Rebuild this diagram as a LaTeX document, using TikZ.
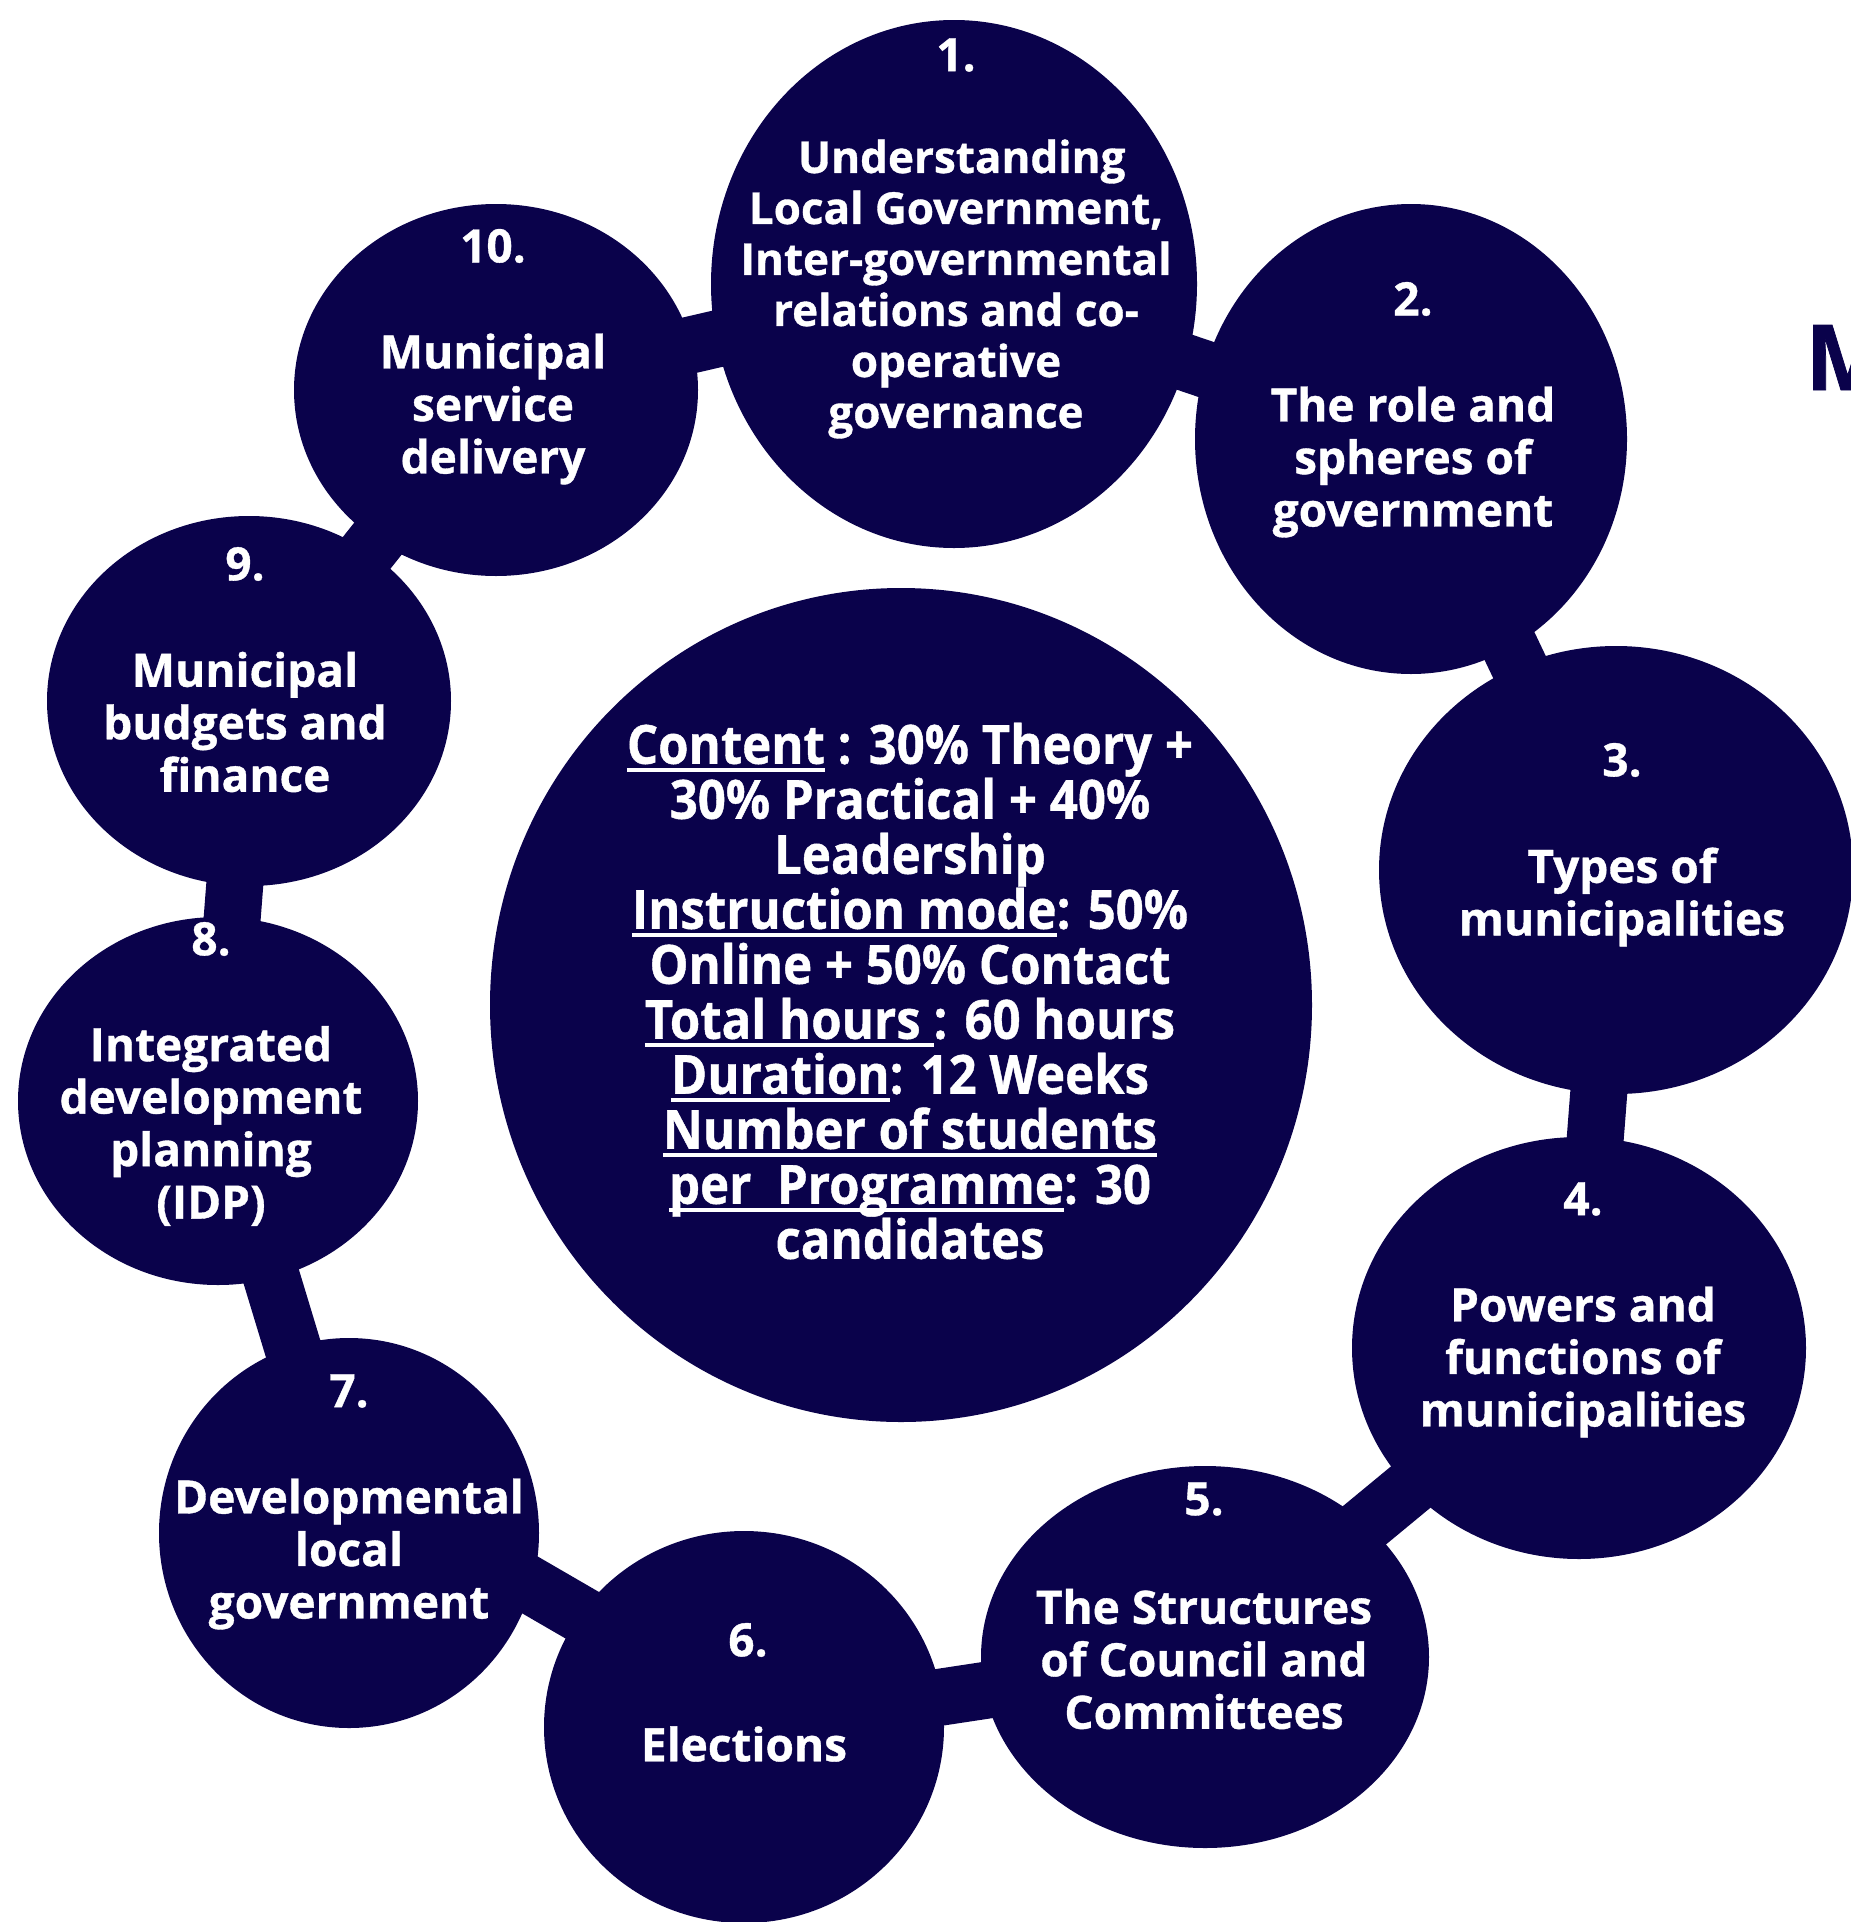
\documentclass[tikz,border=0pt]{standalone}
\usepackage{fontspec}
\setmainfont{Open Sans}[BoldFeatures={FakeBold=0.8}]
\newfontfamily\condfont[FakeStretch=0.91,BoldFeatures={FakeBold=0.8}]{Open Sans}
\usetikzlibrary{shapes.geometric,backgrounds}
\definecolor{navy}{RGB}{10,2,75}
\newcommand{\myul}[1]{\setbox0\hbox{#1}\rlap{\rule[-8pt]{\wd0}{3.5pt}}\box0}
\begin{document}
\begin{tikzpicture}[x=1pt,y=-1pt,
  bub/.style={ellipse, fill=navy, inner sep=0pt},
  conn/.style={draw=navy, line width=57pt},
  lbl/.style={text=white, align=center, inner sep=0pt, font=\bfseries\fontsize{46}{52.5}\selectfont},
  lblone/.style={lbl, font=\bfseries\fontsize{44}{51}\selectfont},
  clbl/.style={text=white, align=center, inner sep=0pt, font=\condfont\bfseries\fontsize{54}{55}\selectfont}]
\useasboundingbox (0,0) rectangle (1851,1922);
% bubbles
\node[bub, minimum width=486pt, minimum height=528pt] (c1) at (954,284) {};
\node[bub, minimum width=432pt, minimum height=470pt] (c2) at (1411,439) {};
\node[bub, minimum width=474pt, minimum height=448pt] (c3) at (1616,870) {};
\node[bub, minimum width=454pt, minimum height=422pt] (c4) at (1579,1348) {};
\node[bub, minimum width=448pt, minimum height=382pt] (c5) at (1205,1657) {};
\node[bub, minimum width=400pt, minimum height=392pt] (c6) at (744,1727) {};
\node[bub, minimum width=380pt, minimum height=390pt] (c7) at (349,1533) {};
\node[bub, minimum width=400pt, minimum height=368pt] (c8) at (218,1101) {};
\node[bub, minimum width=404pt, minimum height=370pt] (c9) at (249,701) {};
\node[bub, minimum width=404pt, minimum height=372pt] (c10) at (496,390) {};
\node[bub, minimum width=822pt, minimum height=834pt] (c0) at (901,1005) {};
% connectors
\begin{scope}[on background layer]
\draw[conn] (c1.center) -- (c2.center);
\draw[conn] (c2.center) -- (c3.center);
\draw[conn] (c3.center) -- (c4.center);
\draw[conn] (c4.center) -- (c5.center);
\draw[conn] (c5.center) -- (c6.center);
\draw[conn] ([yshift=18pt]c6.center) -- ([yshift=53pt]c7.center);
\draw[conn] (c7.center) -- (c8.center);
\draw[conn] (c8.center) -- (c9.center);
\draw[conn] (c9.center) -- (c10.center);
\draw[conn] (c10.center) -- (c1.center);
\end{scope}
% numbers
\node[lbl] (n1) at (956,55) {1.};
\node[lbl] (n2) at (1413,299) {2.};
\node[lbl] (n3) at (1622,760) {3.};
\node[lbl] (n4) at (1583,1199) {4.};
\node[lbl] (n5) at (1204,1499) {5.};
\node[lbl] (n6) at (748,1640) {6.};
\node[lbl] (n7) at (349,1391) {7.};
\node[lbl] (n8) at (211,939) {8.};
\node[lbl] (n9) at (245,564) {9.};
\node[lbl] (n10) at (493,246) {10.};
% labels
\node[lblone] (t1) at (956,289) {\ Understanding\\Local Government,\\Inter-governmental\\relations and co-\\operative\\governance};
\node[lbl] (t2) at (1413,462) {The role and\\spheres of\\government};
\node[lbl] (t3) at (1622,897) {Types of\\municipalities};
\node[lbl] (t4) at (1583,1362) {Powers and\\functions of\\municipalities};
\node[lbl] (t5) at (1204,1659) {The Structures\\of Council and\\Committees};
\node[lbl] (t6) at (744,1744) {Elections};
\node[lbl] (t7) at (349,1554) {Developmental\\local\\government};
\node[lbl] (t8) at (211,1126) {Integrated\\development\\planning\\(IDP)};
\node[lbl] (t9) at (245,722) {Municipal\\budgets and\\finance};
\node[lbl] (t10) at (493,409) {Municipal\\service\\delivery};
\node[clbl] (t0) at (910,991) {\myul{Content}\ : 30\% Theory +\\30\% Practical + 40\%\\Leadership\\\myul{Instruction mode}: 50\%\\Online + 50\% Contact\\\myul{Total hours }: 60 hours\\\myul{Duration}: 12 Weeks\\\myul{Number of students}\\\myul{per\ \ Programme}: 30\\candidates};
% cut-off title letter
\node[anchor=base west, inner sep=0pt, text=navy, font=\bfseries\fontsize{91}{91}\selectfont] (ttl) at (1805,390) {M};
\end{tikzpicture}
\end{document}
